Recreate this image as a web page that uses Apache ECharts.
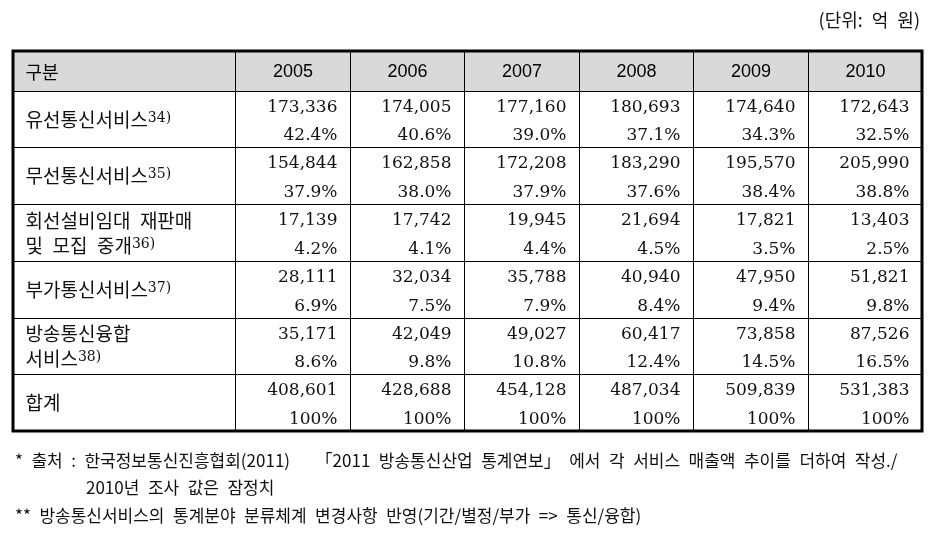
<!DOCTYPE html>
<html>
<head>
<meta charset="utf-8">
<script src="https://cdn.jsdelivr.net/npm/echarts@6/dist/echarts.min.js"></script>
<style>
html, body { margin: 0; padding: 0; background: #fff; }
#main { width: 939px; height: 552px; }
</style>
</head>
<body>
<div id="main"></div>
<script>
// 연도별 서비스 매출액 (단위: 억 원)
var years = ['2005', '2006', '2007', '2008', '2009', '2010'];
var headTitle = '구분';
var categories = ['유선통신서비스', '무선통신서비스', '회선설비임대\u2002재판매\n및\u2002모집\u2002중개', '부가통신서비스', '방송통신융합\n서비스', '합계'];
var noteMarks = ['34)', '35)', '36)', '37)', '38)', ''];

var wired = [173336, 174005, 177160, 180693, 174640, 172643];
var wiredShare = ['42.4', '40.6', '39.0', '37.1', '34.3', '32.5'];
var wireless = [154844, 162858, 172208, 183290, 195570, 205990];
var wirelessShare = ['37.9', '38.0', '37.9', '37.6', '38.4', '38.8'];
var resale = [17139, 17742, 19945, 21694, 17821, 13403];
var resaleShare = ['4.2', '4.1', '4.4', '4.5', '3.5', '2.5'];
var valueAdded = [28111, 32034, 35788, 40940, 47950, 51821];
var valueAddedShare = ['6.9', '7.5', '7.9', '8.4', '9.4', '9.8'];
var convergence = [35171, 42049, 49027, 60417, 73858, 87526];
var convergenceShare = ['8.6', '9.8', '10.8', '12.4', '14.5', '16.5'];
var total = [408601, 428688, 454128, 487034, 509839, 531383];
var totalShare = ['100', '100', '100', '100', '100', '100'];

var unitText = '(단위:\u2002억\u2002원)';
var footnotes = [
	'*\u2002출처\u2002:\u2002한국정보통신진흥협회(2011)\u2002\u2002\u2002「2011\u2002방송통신산업\u2002통계연보」\u2002에서\u2002각\u2002서비스\u2002매출액\u2002추이를\u2002더하여\u2002작성./',
	'2010년\u2002조사\u2002값은\u2002잠정치',
	'**\u2002방송통신서비스의\u2002통계분야\u2002분류체계\u2002변경사항\u2002반영(기간/별정/부가\u2002=>\u2002통신/융합)'
];

var rowValues = [wired, wireless, resale, valueAdded, convergence, total];
var rowShares = [wiredShare, wirelessShare, resaleShare, valueAddedShare, convergenceShare, totalShare];

// 표 칸 경계 (축 단위)
var colEdges = [0, 1.94, 2.94, 3.94, 4.94, 5.94, 6.94, 7.94];
var rowEdges = [0, 0.7, 1.7, 2.7, 3.7, 4.7, 5.7, 6.7];

var numFont = '"DejaVu Serif", serif';
var korFont = '"Noto Sans CJK KR", sans-serif';

function fmt(n) {
	return String(n).replace(/\B(?=(\d{3})+(?!\d))/g, ',');
}

function cellBox(api, c, r) {
	var p0 = api.coord([colEdges[c], rowEdges[r]]);
	var p1 = api.coord([colEdges[c + 1], rowEdges[r + 1]]);
	var x0 = Math.round(p0[0]) + 0.5, y0 = Math.round(p0[1]) + 0.5;
	var x1 = Math.round(p1[0]) + 0.5, y1 = Math.round(p1[1]) + 0.5;
	return { x: x0, y: y0, w: x1 - x0, h: y1 - y0 };
}

var headData = [];
headData.push({ value: [0, 0], name: headTitle });
for (var i = 0; i < years.length; i++) {
	headData.push({ value: [i + 1, 0], name: years[i] });
}

var labelData = [];
for (var i = 0; i < categories.length; i++) {
	labelData.push({ value: [0, i + 1], name: categories[i], note: noteMarks[i] });
}

var bodyData = [];
for (var r = 0; r < rowValues.length; r++) {
	for (var c = 0; c < years.length; c++) {
		bodyData.push({ value: [c + 1, r + 1, rowValues[r][c]], share: rowShares[r][c] });
	}
}

var myChart = echarts.init(document.getElementById('main'), null, { renderer: 'canvas' });

var option = {
	animation: false,
	grid: { left: 13, top: 51, width: 909, height: 380 },
	xAxis: { type: 'value', min: 0, max: 7.94, show: false },
	yAxis: { type: 'value', min: 0, max: 6.7, inverse: true, show: false },
	graphic: [
		{
			type: 'text', right: 19, top: 11,
			style: { text: unitText, fontSize: 18, fontFamily: korFont, fill: '#111' }
		},
		{
			type: 'text', left: 15, top: 452,
			style: { text: footnotes[0], fontSize: 17, fontFamily: korFont, fill: '#111' }
		},
		{
			type: 'text', left: 86, top: 479,
			style: { text: footnotes[1], fontSize: 17, fontFamily: korFont, fill: '#111' }
		},
		{
			type: 'text', left: 15, top: 507,
			style: { text: footnotes[2], fontSize: 17, fontFamily: korFont, fill: '#111' }
		}
	],
	series: [
		// 머리글 행
		{
			type: 'custom',
			coordinateSystem: 'cartesian2d',
			data: headData,
			renderItem: function(params, api) {
				var c = api.value(0), r = api.value(1);
				var b = cellBox(api, c, r);
				var item = headData[params.dataIndex];
				var first = c === 0;
				return {
					type: 'group',
					children: [{
						type: 'rect',
						shape: { x: b.x, y: b.y, width: b.w, height: b.h },
						style: { fill: '#d9d9d9', stroke: '#000', lineWidth: 1 }
					}, {
						type: 'text',
						style: {
							text: item.name,
							x: first ? b.x + 12 : b.x + b.w / 2,
							y: b.y + b.h / 2 + 1,
							align: first ? 'left' : 'center',
							verticalAlign: 'middle',
							fontSize: 18,
							fontFamily: first ? korFont : '"Liberation Sans", Arial, sans-serif',
							fill: '#000'
						}
					}]
				};
			}
		},
		// 구분 열
		{
			type: 'custom',
			coordinateSystem: 'cartesian2d',
			data: labelData,
			renderItem: function(params, api) {
				var c = api.value(0), r = api.value(1);
				var b = cellBox(api, c, r);
				var item = labelData[params.dataIndex];
				var txt = item.name + (item.note ? '{s|' + item.note + '}' : '');
				return {
					type: 'group',
					children: [{
						type: 'rect',
						shape: { x: b.x, y: b.y, width: b.w, height: b.h },
						style: { fill: '#fff', stroke: '#000', lineWidth: 1 }
					}, {
						type: 'text',
						style: {
							text: txt,
							x: b.x + 12,
							y: b.y + b.h / 2,
							align: 'left',
							verticalAlign: 'middle',
							fontSize: 19,
							lineHeight: 25,
							fontFamily: korFont,
							fill: '#111',
							rich: {
								s: { fontSize: 14, fontFamily: numFont, fill: '#111', verticalAlign: 'middle', lineHeight: 25, padding: [0, 0, 3, 0] }
							}
						}
					}]
				};
			}
		},
		// 값 칸
		{
			type: 'custom',
			coordinateSystem: 'cartesian2d',
			data: bodyData,
			renderItem: function(params, api) {
				var c = api.value(0), r = api.value(1), v = api.value(2);
				var b = cellBox(api, c, r);
				var item = bodyData[params.dataIndex];
				return {
					type: 'group',
					children: [{
						type: 'rect',
						shape: { x: b.x, y: b.y, width: b.w, height: b.h },
						style: { fill: '#fff', stroke: '#000', lineWidth: 1 }
					}, {
						type: 'text',
						style: {
							text: fmt(v),
							x: b.x + b.w - 13,
							y: b.y + b.h * 0.28,
							align: 'right',
							verticalAlign: 'middle',
							fontSize: 17,
							fontFamily: numFont,
							fill: '#111'
						}
					}, {
						type: 'text',
						style: {
							text: item.share + '%',
							x: b.x + b.w - 13,
							y: b.y + b.h * 0.79,
							align: 'right',
							verticalAlign: 'middle',
							fontSize: 17,
							fontFamily: numFont,
							fill: '#111'
						}
					}]
				};
			}
		},
		// 바깥 굵은 테두리
		{
			type: 'custom',
			coordinateSystem: 'cartesian2d',
			data: [[0, 0]],
			z: 10,
			renderItem: function(params, api) {
				var p0 = api.coord([colEdges[0], rowEdges[0]]);
				var p1 = api.coord([colEdges[colEdges.length - 1], rowEdges[rowEdges.length - 1]]);
				return {
					type: 'rect',
					shape: { x: p0[0], y: p0[1], width: p1[0] - p0[0], height: p1[1] - p0[1] },
					style: { fill: 'none', stroke: '#000', lineWidth: 3 }
				};
			}
		}
	]
};

myChart.setOption(option);
</script>
</body>
</html>
